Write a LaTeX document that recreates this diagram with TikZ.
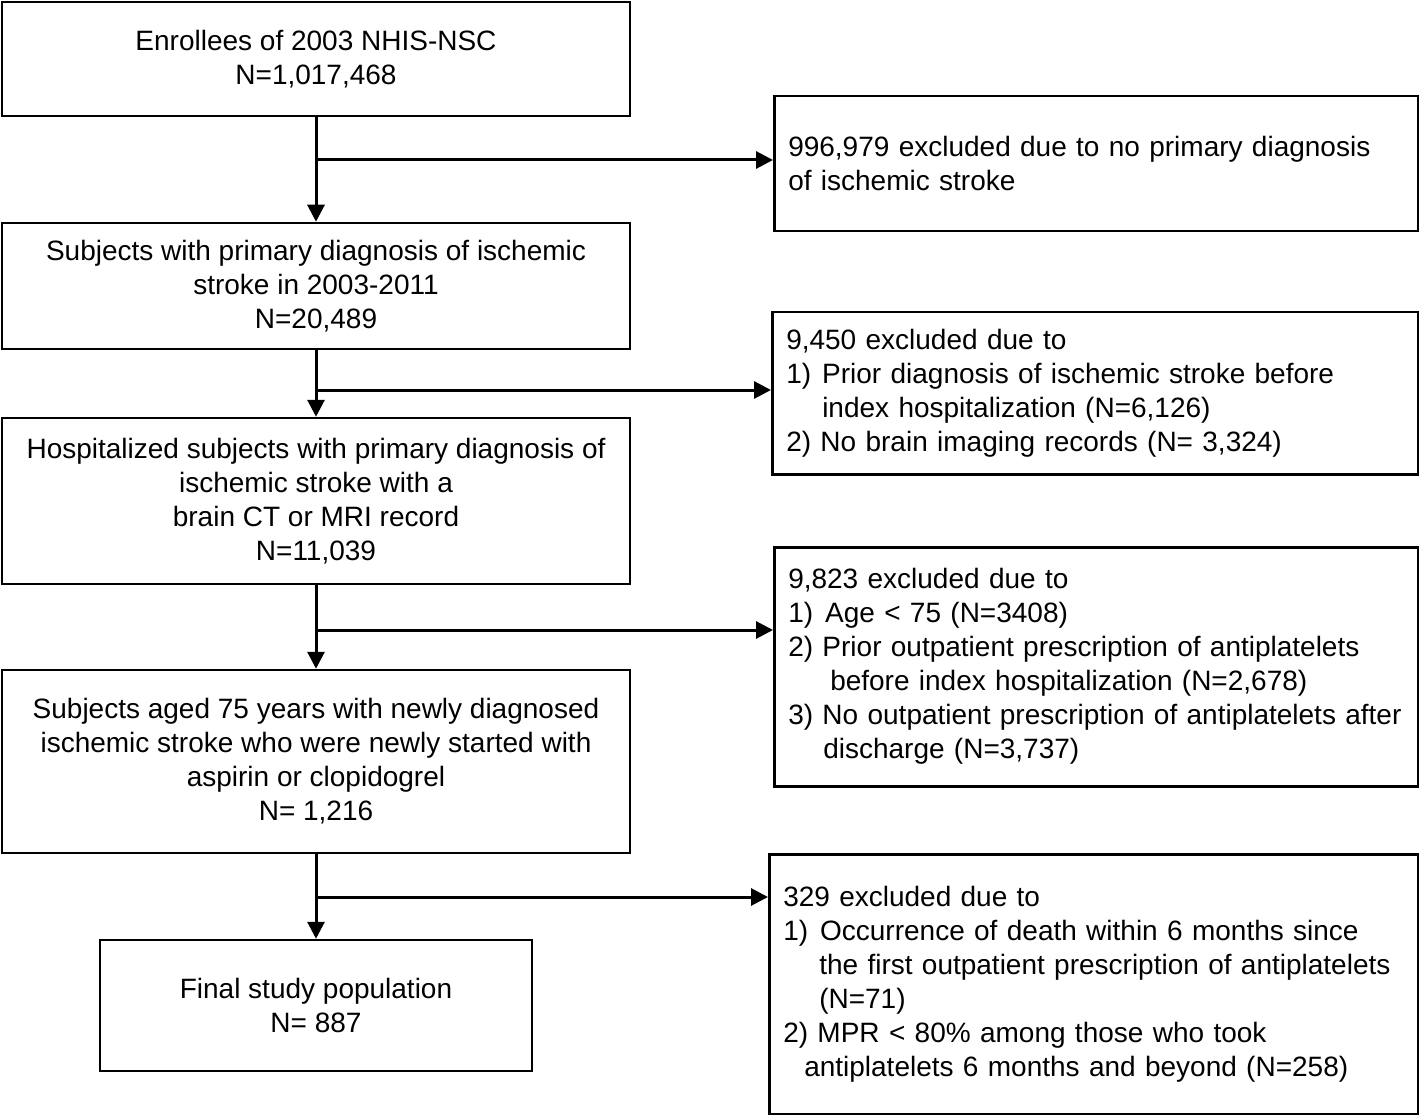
\documentclass[tikz,border=0pt]{standalone}
\usepackage{fontspec}
\setmainfont{Liberation Sans}
\usetikzlibrary{arrows.meta}
\begin{document}
\begin{tikzpicture}[x=1pt,y=-1pt,
  box/.style={draw,line width=2.5pt,align=center,inner sep=0pt,font=\fontsize{28}{34}\selectfont},
  exbox/.style={draw,line width=2.5pt,align=left,inner xsep=14pt,inner ysep=0pt,anchor=north west,font=\fontsize{28}{34}\selectfont},
  arr/.style={line width=3pt,-{Triangle[length=17pt,width=17pt]}}]
\useasboundingbox (0,0) rectangle (1419,1115);
% main boxes
\node[box,minimum width=628pt,minimum height=114pt] (b1) at (316,59) {Enrollees of 2003 NHIS-NSC\\N=1,017,468};
\node[box,minimum width=628pt,minimum height=126pt] (b2) at (316,286) {Subjects with primary diagnosis of ischemic\\stroke in 2003-2011\\N=20,489};
\node[box,minimum width=628pt,minimum height=166pt] (b3) at (316,501) {Hospitalized subjects with primary diagnosis of\\ischemic stroke with a\\brain CT or MRI record\\N=11,039};
\node[box,minimum width=628pt,minimum height=183pt] (b4) at (316,761.5) {Subjects aged 75 years with newly diagnosed\\ischemic stroke who were newly started with\\aspirin or clopidogrel\\N= 1,216};
\node[box,minimum width=432pt,minimum height=131pt] (b5) at (316,1005.5) {Final study population\\N= 887};
% exclusion boxes
\node[exbox,minimum width=644pt,minimum height=135pt,text width=616pt] (r1) at (773,95) {996,979 excluded due to no primary diagnosis\\of ischemic stroke};
\node[exbox,minimum width=646pt,minimum height=162pt,text width=618pt] (r2) at (771,311) {9,450 excluded due to\\1)\hspace{11pt}Prior diagnosis of ischemic stroke before\\\hspace*{36pt}index hospitalization (N=6,126)\\2) No brain imaging records (N= 3,324)\\[-4pt]};
\node[exbox,minimum width=644pt,minimum height=239pt,text width=616pt] (r3) at (773,546) {9,823 excluded due to\\1)\hspace{12pt}Age {<} 75 (N=3408)\\2) Prior outpatient prescription of antiplatelets\\\hspace*{42pt}before index hospitalization (N=2,678)\\3) No outpatient prescription of antiplatelets after\\\hspace*{35pt}discharge (N=3,737)\\[12pt]};
\node[exbox,minimum width=649pt,minimum height=260pt,text width=621pt] (r4) at (768,853) {329 excluded due to\\1)\hspace{12pt}Occurrence of death within 6 months since\\\hspace*{36pt}the first outpatient prescription of antiplatelets\\\hspace*{36pt}(N=71)\\2) MPR {<} 80\% among those who took\\\hspace*{21pt}antiplatelets 6 months and beyond (N=258)};
% junctions
\coordinate (j1) at (316,160);
\coordinate (j2) at (316,390);
\coordinate (j3) at (316,630);
\coordinate (j4) at (316,897);
% vertical arrows
\draw[arr] (b1.south) -- (b2.north);
\draw[arr] (b2.south) -- (b3.north);
\draw[arr] (b3.south) -- (b4.north);
\draw[arr] (b4.south) -- (b5.north);
% horizontal arrows
\draw[arr] (j1) -- (j1 -| r1.west);
\draw[arr] (j2) -- (j2 -| r2.west);
\draw[arr] (j3) -- (j3 -| r3.west);
\draw[arr] (j4) -- (j4 -| r4.west);
\end{tikzpicture}
\end{document}
